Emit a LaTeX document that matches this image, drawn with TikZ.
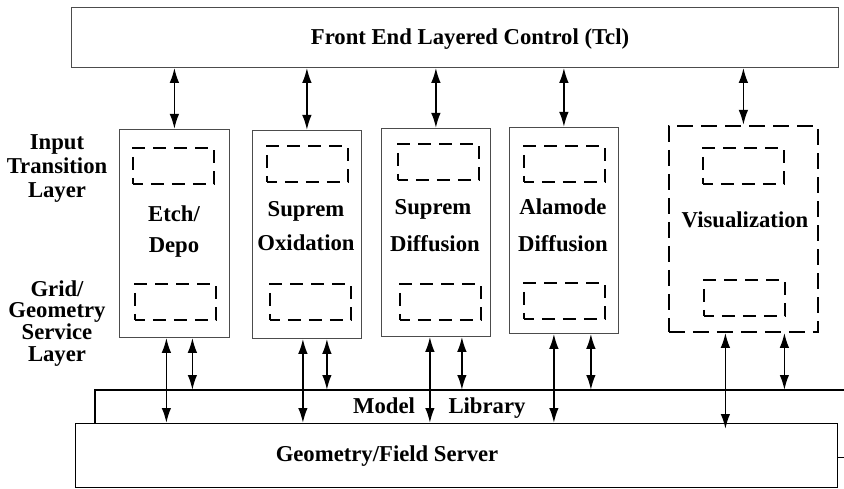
\documentclass[tikz,border=0pt]{standalone}
\usepackage{fontspec}
\setmainfont{Liberation Serif}
\usetikzlibrary{arrows.meta}
\begin{document}
\begin{tikzpicture}[x=1pt,y=-1pt,
  lbl/.style={font=\fontsize{22.7}{25}\selectfont\bfseries, anchor=base, inner sep=0pt, text height=15pt, text depth=0pt},
  modbox/.style={draw=black!70, line width=0.8pt, anchor=north west, inner sep=0pt},
  inbox/.style={draw, line width=1.8pt, dash pattern=on 13pt off 8pt, dash phase=3pt, anchor=north west, inner sep=0pt, minimum width=81pt, minimum height=36pt},
  arr/.style={line width=1.8pt, {Latex[length=15pt,width=9.5pt]}-{Latex[length=15pt,width=9.5pt]}}
]
\useasboundingbox (0,0) rectangle (844,489);
% top control box
\node[modbox, minimum width=767pt, minimum height=60pt] (top) at (71,7) {};
\node[lbl] (ttl) at (470,45) {Front End Layered Control (Tcl)};
% left labels
\node[lbl] (l1) at (57,149.5) {Input};
\node[lbl] (l2) at (57,174) {Transition};
\node[lbl] (l3) at (57,197.5) {Layer};
\node[lbl] (g1) at (57,297) {Grid/};
\node[lbl] (g2) at (57,318) {Geometry};
\node[lbl] (g3) at (57,339) {Service};
\node[lbl] (g4) at (57,361) {Layer};
% modules
\node[modbox, minimum width=110pt, minimum height=208pt] (etch) at (119,129) {};
\node[modbox, minimum width=109pt, minimum height=208pt] (ox) at (252,130) {};
\node[modbox, minimum width=109pt, minimum height=208pt] (sd) at (381,128) {};
\node[modbox, minimum width=109pt, minimum height=206pt] (al) at (509,127) {};
\node[draw, line width=1.8pt, dash pattern=on 16pt off 8pt, anchor=north west, inner sep=0pt, minimum width=149pt, minimum height=206pt] (vis) at (668,125) {};
% inner dashed boxes
\node[inbox] (etchT) at (132,147) {};
\node[inbox] (etchB) at (134,283) {};
\node[inbox] (oxT) at (266,145) {};
\node[inbox] (oxB) at (269,283) {};
\node[inbox] (sdT) at (397,143) {};
\node[inbox] (sdB) at (399,283) {};
\node[inbox] (alT) at (523,145) {};
\node[inbox] (alB) at (523,282) {};
\node[inbox] (visT) at (702,147) {};
\node[inbox] (visB) at (703,279) {};
% module texts
\node[lbl] (e1) at (174,222) {Etch/};
\node[lbl] (e2) at (174,253) {Depo};
\node[lbl] (o1) at (306,216.5) {Suprem};
\node[lbl] (o2) at (306,250.5) {Oxidation};
\node[lbl] (s1) at (433,214.5) {Suprem};
\node[lbl] (s2) at (435,251.5) {Diffusion};
\node[lbl] (a1) at (563,214.5) {Alamode};
\node[lbl] (a2) at (563,251.5) {Diffusion};
\node[lbl] (v1) at (745,227.5) {Visualization};
% bottom layers
\node[anchor=north west, inner sep=0pt, minimum width=760pt, minimum height=33pt] (ml) at (95,390) {};
\draw[line width=1.5pt] (ml.south west) -- (ml.north west) -- (ml.north east);
\node[draw, line width=1.1pt, anchor=north west, inner sep=0pt, minimum width=762pt, minimum height=64pt] (geo) at (75,423) {};
\draw[line width=1.1pt] ([yshift=-2pt]geo.east) -- ++(8,0);
\node[lbl] (m1) at (384,413.5) {Model};
\node[lbl] (m2) at (487,413.5) {Library};
\node[lbl] (gf) at (387,461.5) {Geometry/Field Server};
% top arrows
\foreach \m in {etch,ox,sd,al,vis}
  \draw[arr] (top.south -| \m.north) -- (\m.north);
% bottom arrows
\draw[arr] ([xshift=-8pt]etch.south) -- ([xshift=-8pt]etch.south |- geo.north);
\draw[arr] ([xshift=18pt]etch.south) -- ([xshift=18pt]etch.south |- ml.north);
\draw[arr] ([xshift=-4pt]ox.south) -- ([xshift=-4pt]ox.south |- geo.north);
\draw[arr] ([xshift=20pt]ox.south) -- ([xshift=20pt]ox.south |- ml.north);
\draw[arr] ([xshift=-6pt]sd.south) -- ([xshift=-6pt]sd.south |- geo.north);
\draw[arr] ([xshift=26pt]sd.south) -- ([xshift=26pt]sd.south |- ml.north);
\draw[arr] ([xshift=-10pt]al.south) -- ([xshift=-10pt]al.south |- geo.north);
\draw[arr] ([xshift=27pt]al.south) -- ([xshift=27pt]al.south |- ml.north);
\coordinate (vend) at ([yshift=-6pt]geo.north);
\draw[arr] ([xshift=-18pt]vis.south) -- ([xshift=-18pt]vis.south |- vend);
\draw[arr] ([xshift=41pt]vis.south) -- ([xshift=41pt]vis.south |- ml.north);
\end{tikzpicture}
\end{document}
